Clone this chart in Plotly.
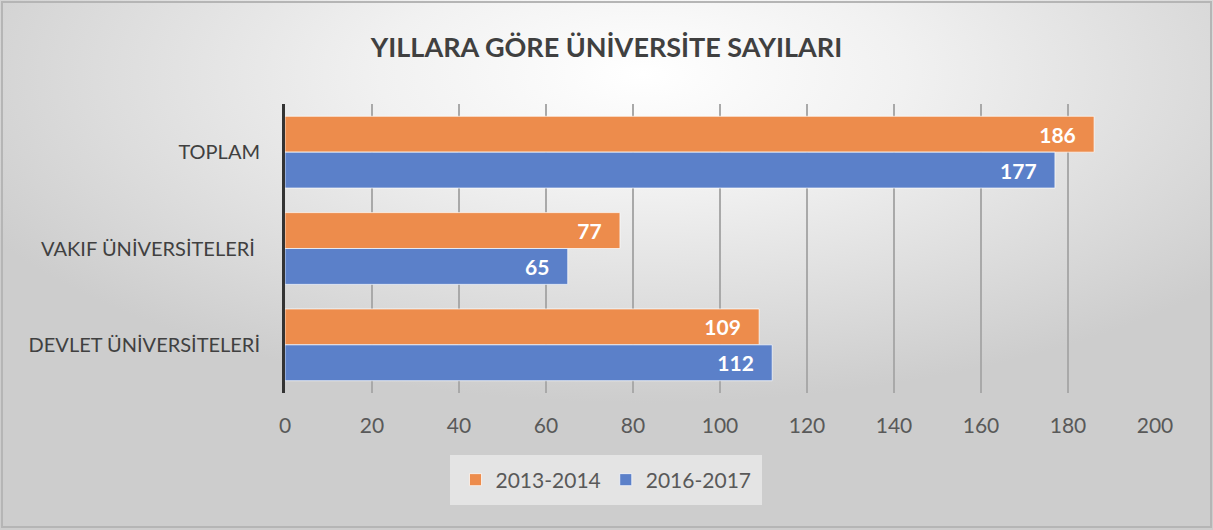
import base64
import plotly.graph_objects as go

categories = ["TOPLAM", "VAKIF ÜNİVERSİTELERİ\u00a0", "DEVLET ÜNİVERSİTELERİ"]
series_names = ["2013-2014", "2016-2017"]
values_2013 = [186, 77, 109]
values_2016 = [177, 65, 112]
x_ticks = [0, 20, 40, 60, 80, 100, 120, 140, 160, 180, 200]
title_text = "YILLARA GÖRE ÜNİVERSİTE SAYILARI"

W, H = 1213, 530
L, R, T, B = 285, 58, 104, 137
pw, ph = W - L - R, H - T - B

svg = (
    f"<svg xmlns='http://www.w3.org/2000/svg' width='{W}' height='{H}' viewBox='0 0 {W} {H}' preserveAspectRatio='none'>"
    "<defs><radialGradient id='g' cx='0.53' cy='0.14' r='0.62' fx='0.53' fy='0.14'>"
    "<stop offset='0' stop-color='#ffffff'/><stop offset='0.35' stop-color='#f1f1f1'/>"
    "<stop offset='1' stop-color='#cdcdcd'/></radialGradient></defs>"
    f"<rect x='0' y='0' width='{W}' height='{H}' fill='url(#g)'/>"
    f"<rect x='2' y='2' width='{W-4}' height='{H-5}' fill='none' stroke='#b5b5b5' stroke-width='2'/>"
    "</svg>"
)
src = "data:image/svg+xml;base64," + base64.b64encode(svg.encode()).decode()

orange = "#ED8C4C"
blue = "#5B80C9"
font = "Lato, 'Open Sans', sans-serif"

fig = go.Figure()
fig.add_trace(go.Bar(
    y=categories, x=values_2013, name=series_names[0], orientation="h",
    marker=dict(color=orange, line=dict(color="rgba(255,255,255,0.7)", width=1)),
    text=values_2013, texttemplate="%{x}\u00a0\u00a0\u00a0", textposition="inside",
    insidetextanchor="end",
    textfont=dict(family=font, size=21, color="white", weight="bold"),
))
fig.add_trace(go.Bar(
    y=categories, x=values_2016, name=series_names[1], orientation="h",
    marker=dict(color=blue, line=dict(color="rgba(255,255,255,0.7)", width=1)),
    text=values_2016, texttemplate="%{x}\u00a0\u00a0\u00a0", textposition="inside",
    insidetextanchor="end",
    textfont=dict(family=font, size=21, color="white", weight="bold"),
))

leg_x0, leg_x1, leg_y0, leg_y1 = 450, 762, 455, 505

fig.update_layout(
    width=W, height=H,
    margin=dict(l=L, r=R, t=T, b=B),
    paper_bgcolor="white",
    plot_bgcolor="rgba(0,0,0,0)",
    barmode="group", bargap=0.255, bargroupgap=0,
    title=dict(text=title_text, x=0.5, xref="container", xanchor="center",
               y=1 - 48 / H, yref="container", yanchor="middle",
               font=dict(family=font, size=27, color="#404040", weight="bold")),
    xaxis=dict(range=[0, 200], tickvals=x_ticks, showgrid=True,
               gridcolor="#a9a9a9", gridwidth=1.5, zeroline=False,
               ticks="", ticklabelstandoff=18,
               tickfont=dict(family=font, size=21, color="#595959")),
    yaxis=dict(autorange="reversed", showline=True, linecolor="#333333", linewidth=3,
               ticks="", ticklabelstandoff=18, showgrid=False,
               tickfont=dict(family=font, size=20, color="#404040")),
    legend=dict(orientation="h", x=(606 - L) / pw, xanchor="center",
                y=-(480 - (T + ph)) / ph, yanchor="middle",
                bgcolor="rgba(0,0,0,0)", borderwidth=0,
                font=dict(family=font, size=21, color="#595959"),
                itemwidth=30),
    shapes=[dict(type="rect", xref="paper", yref="paper",
                 x0=(leg_x0 - L) / pw, x1=(leg_x1 - L) / pw,
                 y0=-(leg_y0 - (T + ph)) / ph, y1=-(leg_y1 - (T + ph)) / ph,
                 fillcolor="rgba(248,248,248,0.55)", line=dict(width=0), layer="below")],
    images=[dict(source=src, xref="paper", yref="paper",
                 x=-L / pw, y=1 + T / ph, sizex=W / pw, sizey=H / ph,
                 sizing="stretch", xanchor="left", yanchor="top", layer="below")],
    showlegend=True,
)

fig.write_html("out.html", config={"displayModeBar": False},
               post_script="document.body.style.margin='0';document.body.style.overflow='hidden';")
